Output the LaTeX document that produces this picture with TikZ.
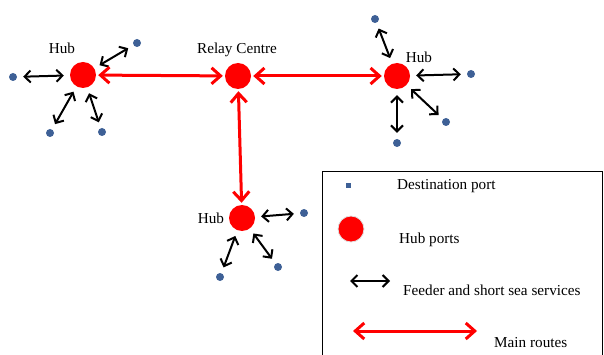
\documentclass[tikz,border=0pt]{standalone}
\usepackage{fontspec}
\setmainfont{Liberation Serif}
\usetikzlibrary{arrows.meta}
\definecolor{portblue}{RGB}{62,96,150}
\begin{document}
\begin{tikzpicture}[x=1pt,y=-1pt,
  hubnode/.style={circle,fill=red,minimum size=26pt,inner sep=0pt},
  dest/.style={circle,fill=portblue,minimum size=8pt,inner sep=0pt},
  feeder/.style={black,line width=2pt,{Straight Barb[length=6pt,width=12pt]}-{Straight Barb[length=6pt,width=12pt]},shorten <=6pt,shorten >=6pt},
  mainroute/.style={red,line width=3pt,{Straight Barb[length=9pt,width=16pt]}-{Straight Barb[length=9pt,width=16pt]},shorten <=2pt,shorten >=2pt},
  lbl/.style={font=\fontsize{15.2}{17}\selectfont,inner sep=0pt}]
\useasboundingbox (0,0) rectangle (604,355);
% hubs
\node[hubnode] (h1) at (83,75) {};
\node[hubnode] (rc) at (238,76) {};
\node[hubnode] (h2) at (397,76) {};
\node[hubnode] (h3) at (242,218) {};
% labels
\node[lbl] (l1) at (62,48) {Hub};
\node[lbl] (l2) at (237,50) {Relay Centre};
\node[lbl] (l3) at (419,57) {Hub};
\node[lbl] (l4) at (211,218) {Hub};
% destinations
\node[dest] (a1) at (13,77) {};
\node[dest] (a2) at (137,43) {};
\node[dest] (a3) at (50,133) {};
\node[dest] (a4) at (102,132) {};
\node[dest] (b1) at (375,19) {};
\node[dest] (b2) at (471,74) {};
\node[dest] (b3) at (446,122) {};
\node[dest] (b4) at (397,143) {};
\node[dest] (c1) at (304,213) {};
\node[dest] (c2) at (220,277) {};
\node[dest] (c3) at (278,267) {};
% feeder arrows
\draw[feeder] (h1) -- (a1);
\draw[feeder] (h1) -- (a2);
\draw[feeder] (h1) -- (a3);
\draw[feeder] (h1) -- (a4);
\draw[feeder] (h2) -- (b1);
\draw[feeder] (h2) -- (b2);
\draw[feeder] (h2) -- (b3);
\draw[feeder] (h2) -- (b4);
\draw[feeder] (h3) -- (c1);
\draw[feeder] (h3) -- (c2);
\draw[feeder] (h3) -- (c3);
% main routes
\draw[mainroute] (h1) -- (rc);
\draw[mainroute] (rc) -- (h2);
\draw[mainroute] (rc) -- (h3);
% legend
\draw[line width=0.8pt] (322.5,356) -- (322.5,171.5) -- (602.5,171.5) -- (602.5,356);
\node[fill=portblue,minimum size=5pt,inner sep=0pt] (k1) at (348,186) {};
\node[lbl,anchor=west] (t1) at (397,186) {Destination port};
\node[hubnode,draw=black!12,line width=0.8pt] (k2) at (351,229) {};
\node[lbl,anchor=west] (t2) at (399,240) {Hub ports};
\coordinate (k3a) at (350,281);
\coordinate (k3b) at (390,281);
\draw[feeder,shorten <=0pt,shorten >=0pt] (k3a) -- (k3b);
\node[lbl,anchor=west] (t3) at (403,290) {Feeder and short sea services};
\coordinate (k4a) at (353,331);
\coordinate (k4b) at (477,331);
\draw[mainroute,shorten <=0pt,shorten >=0pt] (k4a) -- (k4b);
\node[lbl,anchor=west] (t4) at (494,343) {Main routes};
\end{tikzpicture}
\end{document}
